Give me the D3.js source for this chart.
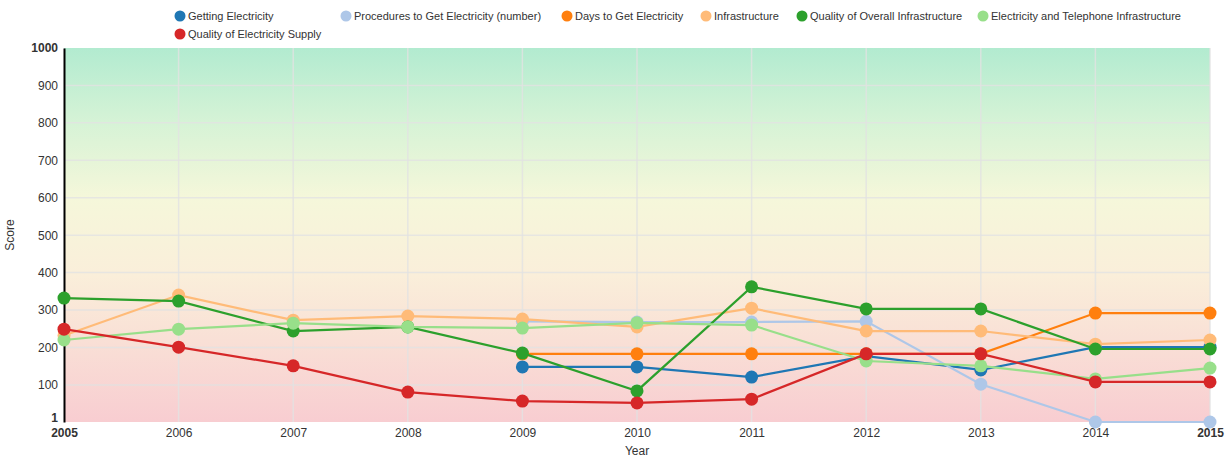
<!DOCTYPE html>
<html>
<head>
<meta charset="utf-8">
<script src="https://cdn.jsdelivr.net/npm/d3@7"></script>
<style>
  body { margin: 0; background: #fff; font-family: "Liberation Sans", Arial, sans-serif; }
  svg text { font-family: "Liberation Sans", Arial, sans-serif; }
</style>
</head>
<body>
<svg id="chart" width="1230" height="457"></svg>
<script>
// Years on the x axis
const years = [2005, 2006, 2007, 2008, 2009, 2010, 2011, 2012, 2013, 2014, 2015];

// Series names (legend order) and colours
const seriesNames = [
  "Getting Electricity",
  "Procedures to Get Electricity (number)",
  "Days to Get Electricity",
  "Infrastructure",
  "Quality of Overall Infrastructure",
  "Electricity and Telephone Infrastructure",
  "Quality of Electricity Supply"
];
const seriesColors = ["#1f77b4", "#aec7e8", "#ff7f0e", "#ffbb78", "#2ca02c", "#98df8a", "#d62728"];

// Scores per year (null = no value for that year)
const gettingElectricity = [null, null, null, null, 148, 148, 121, 177, 140, 201, 201];
const proceduresElectricity = [null, null, null, null, 270, 268, 268, 270, 102, 1, 1];
const daysElectricity = [null, null, null, null, 183, 183, 183, 183, 183, 292, 292];
const infrastructure = [232, 340, 273, 284, 276, 255, 305, 244, 244, 209, 220];
const overallInfrastructure = [332, 324, 244, 255, 185, 84, 362, 303, 303, 196, 196];
const elecTelInfrastructure = [220, 249, 265, 255, 252, 266, 260, 164, 151, 116, 145];
const electricitySupply = [249, 201, 151, 81, 57, 52, 62, 183, 183, 108, 108];

// Y tick labels
const yTicks = [1, 100, 200, 300, 400, 500, 600, 700, 800, 900, 1000];

const seriesValues = [
  gettingElectricity, proceduresElectricity, daysElectricity, infrastructure,
  overallInfrastructure, elecTelInfrastructure, electricitySupply
];

const W = 1230, H = 457;
const margin = { top: 48, right: 20, bottom: 35, left: 64 };
const iw = W - margin.left - margin.right;
const ih = H - margin.top - margin.bottom;

const svg = d3.select("#chart");

// Background gradient, green (high score) to red (low score)
const defs = svg.append("defs");
const grad = defs.append("linearGradient")
  .attr("id", "bg").attr("x1", 0).attr("y1", 0).attr("x2", 0).attr("y2", 1);
[["0%", "#b2ebd0"], ["20%", "#d6f3d6"], ["40%", "#f5f7da"], ["60%", "#faefda"],
 ["78%", "#f9e0d6"], ["100%", "#f8cdd1"]].forEach(([o, c]) =>
  grad.append("stop").attr("offset", o).attr("stop-color", c));

const g = svg.append("g").attr("transform", `translate(${margin.left},${margin.top})`);

const x = d3.scaleLinear().domain([years[0], years[years.length - 1]]).range([0, iw]);
const y = d3.scaleLinear().domain([1, 1000]).range([ih, 0]);

g.append("rect").attr("width", iw).attr("height", ih).attr("fill", "url(#bg)");

// Grid lines
g.append("g").selectAll("line").data(yTicks.slice(1, -1)).join("line")
  .attr("x1", 0).attr("x2", iw)
  .attr("y1", d => y(d)).attr("y2", d => y(d))
  .attr("stroke", "#e2e2e2").attr("stroke-width", 1.5).attr("stroke-opacity", 0.8);
g.append("g").selectAll("line").data(years.slice(1)).join("line")
  .attr("x1", d => x(d)).attr("x2", d => x(d))
  .attr("y1", 0).attr("y2", ih)
  .attr("stroke", "#e2e2e2").attr("stroke-width", 1.5).attr("stroke-opacity", 0.8);

// Y axis
const yAxis = d3.axisLeft(y).tickValues(yTicks).tickSize(0).tickPadding(6).tickFormat(d3.format("d"));
const yg = g.append("g").call(yAxis);
yg.select(".domain").attr("stroke", "#000").attr("stroke-width", 2);
yg.selectAll("text").attr("font-size", 12).attr("fill", "#333")
  .attr("font-weight", d => (d === 1 || d === 1000) ? "bold" : "normal");
// lift the bottom label so it sits just above the first year label
yg.selectAll("text").filter(d => d === 1).attr("dy", "-0.05em");

// X axis
const xAxis = d3.axisBottom(x).tickValues(years).tickSize(0).tickPadding(6).tickFormat(d3.format("d"));
const xg = g.append("g").attr("transform", `translate(0,${ih})`).call(xAxis);
xg.select(".domain").remove();
xg.selectAll("text").attr("font-size", 12).attr("fill", "#333")
  .attr("font-weight", d => (d === years[0] || d === years[years.length - 1]) ? "bold" : "normal");

// Axis titles
g.append("text").attr("x", iw / 2).attr("y", ih + 33).attr("text-anchor", "middle")
  .attr("font-size", 12).attr("fill", "#333").text("Year");
g.append("text").attr("transform", `translate(${-50},${ih / 2}) rotate(-90)`)
  .attr("text-anchor", "middle").attr("font-size", 12).attr("fill", "#333").text("Score");

// Lines and points
const line = d3.line().defined(d => d.v !== null).x(d => x(d.year)).y(d => y(d.v));
seriesValues.forEach((vals, i) => {
  const pts = years.map((yr, j) => ({ year: yr, v: vals[j] }));
  const sg = g.append("g");
  sg.append("path").datum(pts).attr("d", line)
    .attr("fill", "none").attr("stroke", seriesColors[i]).attr("stroke-width", 2.2);
  sg.selectAll("circle").data(pts.filter(d => d.v !== null)).join("circle")
    .attr("cx", d => x(d.year)).attr("cy", d => y(d.v)).attr("r", 6.5)
    .attr("fill", seriesColors[i]);
});

// Legend in aligned columns, two rows
const legendCols = [180, 346, 567, 706, 802, 983];
const legend = svg.append("g");
seriesNames.forEach((name, i) => {
  const col = i % legendCols.length;
  const row = Math.floor(i / legendCols.length);
  const item = legend.append("g").attr("transform", `translate(${legendCols[col]},${16 + row * 18})`);
  item.append("circle").attr("r", 5.5).attr("fill", seriesColors[i]);
  item.append("text").attr("x", 8).attr("dy", "0.35em").attr("font-size", 11)
    .attr("fill", "#333").text(name);
});
</script>
</body>
</html>
